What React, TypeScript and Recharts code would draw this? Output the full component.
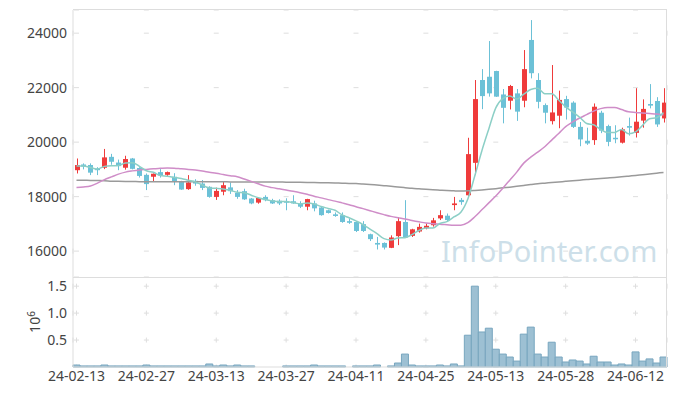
import React from 'react';
import { ComposedChart, BarChart, Bar, Line, XAxis, YAxis, CartesianGrid } from 'recharts';

// trading days, 24-02-13 .. 24-06-18
const dates = [
  '24-02-13', '24-02-14', '24-02-15', '24-02-16', '24-02-19', '24-02-20', '24-02-21', '24-02-22', '24-02-23', '24-02-26',
  '24-02-27', '24-02-28', '24-02-29', '24-03-04', '24-03-05', '24-03-06', '24-03-07', '24-03-08', '24-03-11', '24-03-12',
  '24-03-13', '24-03-14', '24-03-15', '24-03-18', '24-03-19', '24-03-20', '24-03-21', '24-03-22', '24-03-25', '24-03-26',
  '24-03-27', '24-03-28', '24-03-29', '24-04-01', '24-04-02', '24-04-03', '24-04-04', '24-04-05', '24-04-08', '24-04-09',
  '24-04-11', '24-04-12', '24-04-15', '24-04-16', '24-04-17', '24-04-18', '24-04-19', '24-04-22', '24-04-23', '24-04-24',
  '24-04-25', '24-04-26', '24-04-29', '24-04-30', '24-05-02', '24-05-03', '24-05-07', '24-05-08', '24-05-09', '24-05-10',
  '24-05-13', '24-05-14', '24-05-16', '24-05-17', '24-05-20', '24-05-21', '24-05-22', '24-05-23', '24-05-24', '24-05-27',
  '24-05-28', '24-05-29', '24-05-30', '24-05-31', '24-06-03', '24-06-04', '24-06-05', '24-06-07', '24-06-10', '24-06-11',
  '24-06-12', '24-06-13', '24-06-14', '24-06-17', '24-06-18',
];

const opens = [
  18970, 19180, 19160, 19030, 19060, 19460, 19250, 19060, 19400, 19050,
  18800, 18730, 18900, 18800, 18730, 18570, 18275, 18580, 18480, 18360,
  17990, 18180, 18340, 18140, 18200, 17930, 17780, 17990, 17870, 17850,
  17830, 17830, 17750, 17630, 17750, 17600, 17500, 17350, 17320, 17100,
  17070, 16990, 16620, 16300, 16300, 16120, 16550, 17070, 16560, 16720,
  16840, 16950, 17200, 17300, 17690, 17880, 18050, 19240, 22280, 22400,
  22610, 21750, 21520, 21790, 21520, 23750, 22280, 21360, 20770, 20970,
  21580, 21450, 20560, 20050, 20075, 21080, 20590, 20160, 19980, 20590,
  20340, 20790, 21400, 21510, 20870,
];
const highs = [
  19400, 19220, 19220, 19080, 19750, 19570, 19360, 19500, 19420, 19080,
  18850, 18850, 19010, 18920, 18860, 18580, 18790, 18640, 18610, 18380,
  18330, 18570, 18520, 18240, 18290, 17950, 17960, 18050, 17920, 17900,
  17940, 18050, 17830, 17920, 17850, 17620, 17520, 17420, 17420, 17200,
  17090, 17100, 16640, 16520, 16320, 16580, 17250, 17870, 16820, 17010,
  17010, 17220, 17500, 17380, 17990, 17950, 20160, 22280, 22680, 23710,
  22620, 21950, 22100, 21950, 23380, 24480, 22530, 21420, 22830, 21890,
  21700, 21500, 20740, 20530, 21420, 21150, 20640, 20620, 20530, 20900,
  21980, 21570, 22130, 21650, 21980,
];
const lows = [
  18850, 19000, 18790, 18790, 19010, 19170, 18970, 18990, 19000, 18700,
  18240, 18540, 18700, 18760, 18420, 18250, 18250, 18400, 18240, 17960,
  17880, 18050, 18100, 17920, 17880, 17720, 17740, 17830, 17730, 17690,
  17500, 17740, 17580, 17500, 17460, 17300, 17380, 17260, 17040, 17000,
  16700, 16700, 16370, 16060, 16060, 16110, 16220, 16480, 16520, 16680,
  16800, 16900, 17140, 17100, 17500, 17700, 18000, 18790, 21210, 21670,
  21660, 20690, 21200, 20780, 21280, 22340, 21240, 20690, 20650, 20510,
  20830, 20520, 19850, 19900, 19900, 20330, 19850, 19960, 19950, 20240,
  20170, 20530, 21240, 20560, 20720,
];
const closes = [
  19160, 19100, 18880, 18970, 19440, 19280, 19120, 19380, 19020, 18760,
  18460, 18840, 18780, 18900, 18545, 18260, 18520, 18480, 18320, 17990,
  18210, 18420, 18200, 17990, 17900, 17750, 17950, 17870, 17750, 17750,
  17790, 17750, 17630, 17910, 17570, 17320, 17400, 17290, 17070, 17040,
  16740, 16740, 16440, 16240, 16130, 16500, 17100, 16500, 16800, 16890,
  16930, 17130, 17320, 17140, 17750, 17800, 19560, 21580, 21690, 21790,
  21670, 21260, 22060, 21120, 22680, 22530, 21480, 21080, 21090, 21550,
  21270, 20560, 20100, 19950, 21300, 20420, 20010, 20110, 20470, 20530,
  20750, 21220, 21340, 20650, 21450,
];

const ma5 = [
  19120, 19120, 19070, 19010, 19110, 19134, 19138, 19238, 19248, 19112,
  18948, 18892, 18772, 18748, 18705, 18665, 18601, 18541, 18425, 18314,
  18304, 18284, 18228, 18162, 18144, 18052, 17958, 17892, 17844, 17814,
  17822, 17782, 17734, 17766, 17730, 17636, 17566, 17498, 17330, 17224,
  17108, 16976, 16806, 16640, 16458, 16410, 16482, 16494, 16606, 16758,
  16844, 16850, 17014, 17082, 17254, 17428, 17914, 18766, 19676, 20484,
  21258, 21598, 21694, 21580, 21758, 21930, 21974, 21778, 21772, 21546,
  21294, 21110, 20914, 20686, 20636, 20466, 20356, 20358, 20462, 20308,
  20374, 20616, 20862, 20898, 21082,
];
const ma20 = [
  18335, 18355, 18390, 18495, 18625, 18725, 18825, 18900, 18945, 18980,
  19000, 19020, 19040, 19055, 19045, 19020, 19000, 18975, 18940, 18895,
  18855, 18810, 18765, 18730, 18645, 18560, 18470, 18385, 18330, 18285,
  18240, 18195, 18145, 18085, 18015, 17955, 17890, 17835, 17770, 17705,
  17630, 17560, 17485, 17410, 17340, 17275, 17225, 17180, 17125, 17075,
  17030, 17005, 16990, 16970, 16950, 16950, 17045, 17260, 17515, 17770,
  18020, 18310, 18605, 18900, 19230, 19450, 19635, 19830, 20075, 20315,
  20570, 20740, 20885, 21010, 21140, 21230, 21275, 21270, 21195, 21115,
  21090, 21070, 21050, 21030, 20995,
];
const ma120 = [
  18605, 18600, 18595, 18590, 18585, 18568, 18563, 18558, 18553, 18549,
  18545, 18545, 18545, 18545, 18545, 18545, 18545, 18545, 18545, 18545,
  18543, 18542, 18541, 18540, 18539, 18538, 18537, 18536, 18535, 18534,
  18532, 18530, 18527, 18523, 18518, 18513, 18507, 18500, 18493, 18486,
  18480, 18465, 18447, 18425, 18403, 18380, 18355, 18330, 18304, 18285,
  18267, 18252, 18238, 18223, 18212, 18205, 18212, 18227, 18245, 18267,
  18293, 18322, 18348, 18377, 18410, 18443, 18473, 18495, 18517, 18539,
  18561, 18583, 18605, 18627, 18649, 18667, 18686, 18704, 18726, 18752,
  18778, 18803, 18829, 18859, 18888,
];

const volumes = [
  37000, 20000, 20000, 20000, 37000, 20000, 20000, 20000, 20000, 20000,
  37000, 20000, 20000, 20000, 20000, 20000, 20000, 20000, 20000, 56000,
  20000, 37000, 20000, 37000, 20000, 20000, 0, 0, 0, 0,
  20000, 20000, 20000, 20000, 37000, 20000, 20000, 20000, 20000, 0,
  20000, 20000, 20000, 37000, 0, 20000, 74000, 240000, 37000, 20000,
  20000, 20000, 37000, 20000, 56000, 20000, 590000, 1500000, 650000, 720000,
  330000, 240000, 185000, 110000, 610000, 740000, 240000, 185000, 460000, 185000,
  93000, 130000, 110000, 56000, 200000, 93000, 93000, 37000, 56000, 37000,
  280000, 110000, 150000, 74000, 185000,
];

const xTicks = ['24-02-13', '24-02-27', '24-03-13', '24-03-27', '24-04-11', '24-04-25', '24-05-13', '24-05-28', '24-06-12'];
const priceTicks = [16000, 18000, 20000, 22000, 24000];
const volumeTicks = [500000, 1000000, 1500000];

const rows = dates.map((date, i) => ({
  date,
  open: opens[i],
  high: highs[i],
  low: lows[i],
  close: closes[i],
  range: [lows[i], highs[i]],
  ma5: ma5[i],
  ma20: ma20[i],
  ma120: ma120[i],
  volume: volumes[i],
}));

const UP = '#ef3b3b';
const DOWN = '#6cc1d7';
const FRAME = '#dddddd';
const MARK = '#dedede';
const tickStyle = { fill: '#444', fontSize: 14, fontFamily: 'Noto Sans' };

const Candle = (props: any) => {
  const { x, y, width, height, payload } = props;
  if (!payload) return null;
  const { open, close, high, low } = payload;
  const top = Math.min(y, y + height);
  const k = Math.abs(height) / (high - low || 1);
  const yO = top + (high - open) * k;
  const yC = top + (high - close) * k;
  const color = close >= open ? UP : DOWN;
  const cx = Math.round(x + width / 2) + 0.5;
  return (
    <g>
      <line x1={cx} x2={cx} y1={top} y2={top + Math.abs(height)} stroke={color} strokeWidth={1} />
      <rect x={cx - width / 2} y={Math.min(yO, yC)} width={width} height={Math.max(Math.abs(yO - yC), 1.5)} fill={color} />
    </g>
  );
};

// top / right edges of the two plot frames
const frameBox = (top: number, height: number) => ({
  position: 'absolute' as const,
  left: 73,
  top,
  width: 594,
  height,
  borderTop: `1px solid ${FRAME}`,
  borderRight: `1px solid ${FRAME}`,
  boxSizing: 'border-box' as const,
  pointerEvents: 'none' as const,
});

export default function App() {
  return (
    <div style={{ position: 'absolute', left: 0, top: 0, width: 677, height: 396, background: '#fff', fontFamily: 'Noto Sans' }}>
      <div style={{ position: 'absolute', left: 0, top: 0 }}>
        <ComposedChart width={677} height={280} data={rows} margin={{ top: 10, right: 10, left: 0, bottom: 3 }}>
          <CartesianGrid vertical={false} stroke={MARK} strokeDasharray="0 0.99 5 63.89" />
          <CartesianGrid horizontal={false} stroke={MARK} strokeDasharray="0 20.66 5 28.83" />
          <XAxis dataKey="date" ticks={xTicks} interval={0} height={0} tick={false} tickLine={false} axisLine={{ stroke: FRAME }} />
          <YAxis
            domain={[15050, 24850]}
            ticks={priceTicks}
            width={73}
            tickLine={false}
            tickSize={4}
            tickMargin={2}
            axisLine={{ stroke: FRAME }}
            tick={tickStyle}
            allowDataOverflow
          />
          <Bar dataKey="range" barSize={5} shape={Candle} isAnimationActive={false} />
          <Line type="monotone" dataKey="ma120" stroke="#9a9a9a" strokeWidth={1.5} dot={false} isAnimationActive={false} />
          <Line type="monotone" dataKey="ma20" stroke="#cf8dc8" strokeWidth={1.5} dot={false} isAnimationActive={false} />
          <Line type="monotone" dataKey="ma5" stroke="#8ccfc6" strokeWidth={1.5} dot={false} isAnimationActive={false} />
        </ComposedChart>
      </div>
      <div style={{ position: 'absolute', left: 0, top: 277 }}>
        <BarChart width={677} height={119} data={rows} margin={{ top: 0, right: 10, left: 0, bottom: 0 }} barCategoryGap={0}>
          <CartesianGrid vertical={false} stroke={MARK} strokeDasharray="0 0.99 5 63.89" />
          <CartesianGrid horizontal={false} stroke={MARK} strokeDasharray="0 6.66 5 15.29" />
          <XAxis
            dataKey="date"
            ticks={xTicks}
            interval={0}
            height={29}
            tickLine={false}
            tickSize={2}
            tickMargin={2}
            axisLine={{ stroke: FRAME }}
            tick={tickStyle}
          />
          <YAxis
            domain={[0, 1670000]}
            ticks={volumeTicks}
            width={73}
            tickLine={false}
            tickSize={4}
            tickMargin={2}
            axisLine={{ stroke: FRAME }}
            tick={tickStyle}
            tickFormatter={(v: number) => (v / 1000000).toFixed(1)}
          />
          <Bar dataKey="volume" fill="#9dc0d3" stroke="#78a6bf" strokeWidth={1} isAnimationActive={false} />
        </BarChart>
      </div>
      <div style={frameBox(9, 268)} />
      <div style={frameBox(277, 90)} />
      <div
        style={{
          position: 'absolute',
          left: 33,
          top: 322,
          transform: 'translate(-50%, -50%) rotate(-90deg)',
          fontSize: 14,
          color: '#444',
          whiteSpace: 'nowrap',
          lineHeight: '14px',
        }}
      >
        10<sup style={{ fontSize: 10 }}>6</sup>
      </div>
      <div
        style={{
          position: 'absolute',
          left: 441,
          top: 236,
          fontSize: 29,
          lineHeight: '29px',
          color: '#cddfe9',
          whiteSpace: 'nowrap',
          pointerEvents: 'none',
        }}
      >
        InfoPointer.com
      </div>
    </div>
  );
}
